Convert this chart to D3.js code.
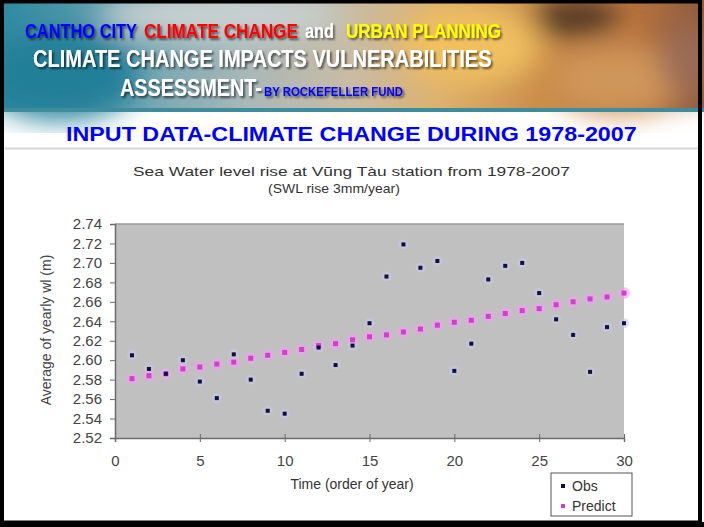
<!DOCTYPE html>
<html>
<head>
<meta charset="utf-8">
<script src="https://cdn.jsdelivr.net/npm/d3@7"></script>
<style>
  body { margin: 0; background: #fff; }
  svg { display: block; font-family: Arial, "Liberation Sans", sans-serif; }
</style>
</head>
<body>
<svg id="slide" width="704" height="527"></svg>
<script>
// data
var years = d3.range(1, 31);
var obs = [2.605, 2.591, 2.586, 2.600, 2.578, 2.561, 2.606, 2.580, 2.548, 2.545,
           2.586, 2.613, 2.595, 2.615, 2.638, 2.686, 2.719, 2.695, 2.702, 2.589,
           2.617, 2.683, 2.697, 2.700, 2.669, 2.642, 2.626, 2.588, 2.634, 2.638];
var predict = [2.581, 2.584, 2.586, 2.591, 2.593, 2.596, 2.598, 2.602, 2.605, 2.608,
               2.611, 2.615, 2.617, 2.621, 2.624, 2.626, 2.629, 2.632, 2.636, 2.639,
               2.641, 2.645, 2.648, 2.651, 2.653, 2.657, 2.660, 2.663, 2.665, 2.669];
var yTicks = [2.52, 2.54, 2.56, 2.58, 2.60, 2.62, 2.64, 2.66, 2.68, 2.70, 2.72, 2.74];
var xTicks = [0, 5, 10, 15, 20, 25, 30];
var seriesNames = ["Obs", "Predict"];

var svg = d3.select("#slide");
var defs = svg.append("defs");

// squeeze a text horizontally so it fills a given width
function fit(sel, x, y, w) {
  var len = sel.node().getComputedTextLength();
  sel.attr("transform", "translate(" + x + "," + y + ") scale(" + (w / len) + ",1)");
  return sel;
}

// header background (blurred photo look)
var grad = defs.append("linearGradient").attr("id", "hdr").attr("x1", 0).attr("x2", 1);
[[0, "#2e8aa0"], [0.18, "#6aa3b2"], [0.35, "#a9b8b8"], [0.5, "#c9bca4"],
 [0.62, "#dcb170"], [0.78, "#c98a45"], [0.9, "#b9743e"], [1, "#8a5a3c"]]
  .forEach(s => grad.append("stop").attr("offset", s[0]).attr("stop-color", s[1]));
defs.append("filter").attr("id", "blur").append("feGaussianBlur").attr("stdDeviation", 14);
var sh = defs.append("filter").attr("id", "shadow").attr("x", -0.1).attr("y", -0.3).attr("width", 1.2).attr("height", 1.6);
sh.append("feDropShadow").attr("dx", 2).attr("dy", 2).attr("stdDeviation", 1.2)
  .attr("flood-color", "#000").attr("flood-opacity", 0.6);

var hdr = svg.append("g");
hdr.append("rect").attr("x", 0).attr("y", 0).attr("width", 704).attr("height", 112).attr("fill", "url(#hdr)");
var blobs = hdr.append("g").attr("filter", "url(#blur)");
blobs.append("ellipse").attr("cx", 60).attr("cy", 75).attr("rx", 80).attr("ry", 45).attr("fill", "#237f98");
blobs.append("ellipse").attr("cx", 220).attr("cy", 15).attr("rx", 120).attr("ry", 25).attr("fill", "#c8d0d0");
blobs.append("ellipse").attr("cx", 470).attr("cy", 45).attr("rx", 70).attr("ry", 40).attr("fill", "#f0c060");
blobs.append("ellipse").attr("cx", 575).attr("cy", 18).attr("rx", 45).attr("ry", 18).attr("fill", "#4a3020");
blobs.append("ellipse").attr("cx", 620).attr("cy", 80).attr("rx", 70).attr("ry", 35).attr("fill", "#d0955a");
blobs.append("ellipse").attr("cx", 690).attr("cy", 60).attr("rx", 30).attr("ry", 40).attr("fill", "#9a6a55");
hdr.append("rect").attr("x", 0).attr("y", 108).attr("width", 704).attr("height", 4).attr("fill", "#3f8c9c");

// header text, line 1 in four coloured pieces
var line1 = [["CANTHO CITY", "#0000ff", 25, 112], ["CLIMATE CHANGE", "#ff0000", 144, 154],
             ["and", "#ffffff", 305, 29], ["URBAN PLANNING", "#ffff00", 346, 155]];
line1.forEach(p => {
  fit(hdr.append("text").attr("font-size", 21).attr("font-weight", "bold")
    .attr("fill", p[1]).attr("filter", "url(#shadow)").text(p[0]), p[2], 38, p[3]);
});

fit(hdr.append("text").attr("font-size", 23).attr("font-weight", "bold")
  .attr("fill", "#fff").attr("filter", "url(#shadow)")
  .text("CLIMATE CHANGE IMPACTS VULNERABILITIES"), 33, 67, 459);
fit(hdr.append("text").attr("font-size", 23).attr("font-weight", "bold")
  .attr("fill", "#fff").attr("filter", "url(#shadow)").text("ASSESSMENT-"), 120, 96, 142);
fit(hdr.append("text").attr("font-size", 13).attr("font-weight", "bold")
  .attr("fill", "#0000ff").attr("filter", "url(#shadow)").text("BY ROCKEFELLER FUND"), 264, 96, 139);

// subtitle
fit(svg.append("text").attr("font-size", 20).attr("font-weight", "bold").attr("fill", "#0000ff")
  .text("INPUT DATA-CLIMATE CHANGE DURING 1978-2007"), 66, 141, 571);
svg.append("line").attr("x1", 5).attr("x2", 699).attr("y1", 148.5).attr("y2", 148.5)
  .attr("stroke", "#d8d8d8").attr("stroke-width", 2);

// chart titles
fit(svg.append("text").attr("font-size", 13).attr("fill", "#333")
  .text("Sea Water level rise at Vũng Tàu station from 1978-2007"), 133, 176, 437);
fit(svg.append("text").attr("font-size", 13).attr("fill", "#333")
  .text("(SWL rise 3mm/year)"), 268, 193, 132);

// plot
var x = d3.scaleLinear().domain([0, 30]).range([115, 624]);
var y = d3.scaleLinear().domain([2.52, 2.74]).range([438, 224]);

svg.append("rect").attr("x", x(0)).attr("y", y(2.74)).attr("width", x(30) - x(0)).attr("height", y(2.52) - y(2.74))
  .attr("fill", "#c0c0c0");
svg.append("line").attr("x1", x(0)).attr("x2", x(30)).attr("y1", y(2.74)).attr("y2", y(2.74))
  .attr("stroke", "#9a9a9a").attr("stroke-width", 1.5);

var yAxis = svg.append("g").attr("transform", "translate(" + x(0) + ",0)")
  .call(d3.axisLeft(y).tickValues(yTicks).tickFormat(d3.format(".2f")).tickSize(5).tickPadding(8));
var xAxis = svg.append("g").attr("transform", "translate(0," + y(2.52) + ")")
  .call(d3.axisBottom(x).tickValues(xTicks).tickSize(4).tickPadding(13));
[yAxis, xAxis].forEach(a => {
  a.select(".domain").attr("stroke", "#6a6a6a").attr("stroke-width", 1.5);
  a.selectAll(".tick line").attr("stroke", "#6a6a6a");
  a.selectAll(".tick text").attr("fill", "#444").attr("font-size", 15)
    .attr("font-family", "Arial, 'Liberation Sans', sans-serif");
});
xAxis.selectAll(".tick line").attr("y1", -4);

svg.append("text").attr("transform", "translate(51," + y(2.631) + ") rotate(-90)")
  .attr("text-anchor", "middle").attr("font-size", 14).attr("fill", "#444")
  .text("Average of yearly wl (m)");
svg.append("text").attr("x", 352).attr("y", 489).attr("text-anchor", "middle")
  .attr("font-size", 14).attr("fill", "#333").text("Time (order of year)");

// points
var pts = svg.append("g");
pts.selectAll(".ph").data(predict).enter().append("circle")
  .attr("cx", (d, i) => x(years[i])).attr("cy", d => y(d)).attr("r", 6)
  .attr("fill", "#f0a0f0").attr("opacity", 0.6);
pts.selectAll(".oh").data(obs).enter().append("circle")
  .attr("cx", (d, i) => x(years[i])).attr("cy", d => y(d)).attr("r", 5)
  .attr("fill", "#c8c8e0").attr("opacity", 0.6);
pts.selectAll(".p").data(predict).enter().append("rect")
  .attr("x", (d, i) => x(years[i]) - 2.5).attr("y", d => y(d) - 2.5).attr("width", 5).attr("height", 5)
  .attr("fill", "#d040c8");
pts.selectAll(".o").data(obs).enter().append("rect")
  .attr("x", (d, i) => x(years[i]) - 2).attr("y", d => y(d) - 2).attr("width", 4).attr("height", 4)
  .attr("fill", "#101040");

// legend
var lg = svg.append("g").attr("transform", "translate(551,473)");
lg.append("rect").attr("width", 81).attr("height", 43).attr("fill", "#fff").attr("stroke", "#555");
var legendColors = ["#101040", "#d040c8"];
seriesNames.forEach((n, i) => {
  lg.append("rect").attr("x", 10).attr("y", 11 + i * 20).attr("width", 4).attr("height", 4)
    .attr("fill", legendColors[i]);
  lg.append("text").attr("x", 21).attr("y", 18 + i * 20).attr("font-size", 14).attr("fill", "#333").text(n);
});

// slide border
svg.append("rect").attr("x", 2).attr("y", 1.5).attr("width", 698).attr("height", 521)
  .attr("fill", "none").attr("stroke", "#000").attr("stroke-width", 4);
svg.append("rect").attr("x", 0).attr("y", 522).attr("width", 704).attr("height", 5).attr("fill", "#000");
</script>
</body>
</html>
